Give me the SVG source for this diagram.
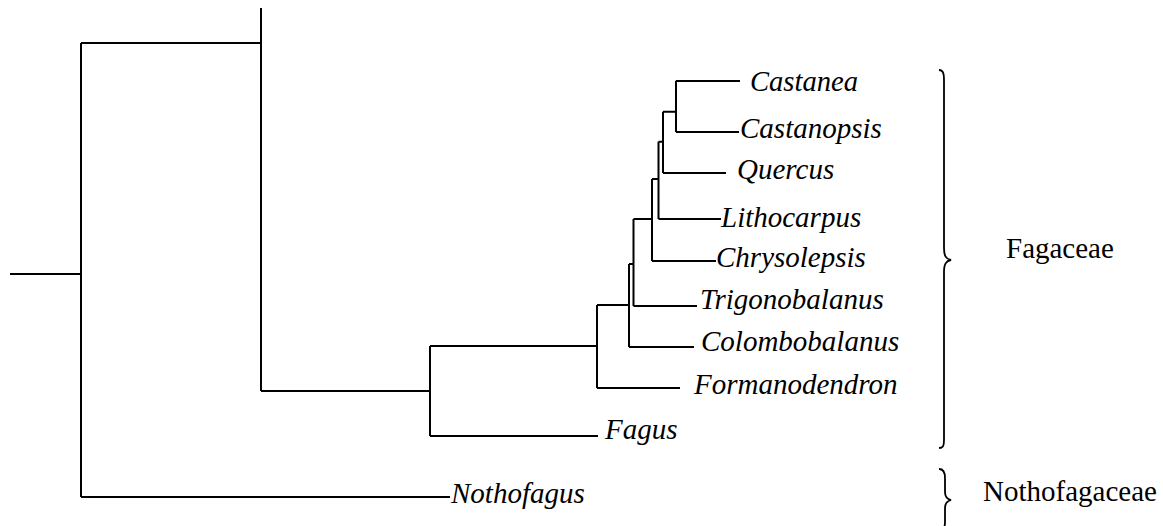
<svg xmlns="http://www.w3.org/2000/svg" width="1163" height="526" viewBox="0 0 1163 526">
<style>
.br{fill:none;stroke:#000;stroke-width:2;stroke-linecap:butt;stroke-linejoin:miter}
.bc{fill:none;stroke:#000;stroke-width:1.8}
.tx{font-family:"Liberation Serif","Times New Roman",serif;font-size:29px;font-style:italic;fill:#000}
.fam{font-family:"Liberation Serif","Times New Roman",serif;font-size:29px;fill:#000}
</style>
<rect width="1163" height="526" fill="#fff"/>
<g id="connectors">
<path class="br" d="M10 274 H81 M81 43 V497 M81 43 H261 M261 8 V391 M261 391 H430 M430 346 V436 M430 346 H598 M430 436 H598 M81 497 H450"/>
<path class="br" d="M597 305 V388 M597 388 H680 M597 305 H629 M629 264 V347 M629 347 H694 M629 264 H634 M633.5 219 V306 M633.5 306 H697 M633.5 219 H652 M652 179 V261 M652 261 H716 M652 179 H658.5 M658.5 141.7 V219 M658.5 219 H721 M658.5 141.7 H663 M663 111.7 V173 M663 173 H726 M663 111.7 H676 M676 80.7 V132 M676 81 H740 M676 132 H739"/>
</g>
<g id="castanea"><text class="tx" x="750" y="90.5" textLength="108" lengthAdjust="spacingAndGlyphs">Castanea</text></g>
<g id="castanopsis"><text class="tx" x="740" y="137.5">Castanopsis</text></g>
<g id="quercus"><text class="tx" x="737" y="178.5">Quercus</text></g>
<g id="lithocarpus"><text class="tx" x="721" y="227">Lithocarpus</text></g>
<g id="chrysolepsis"><text class="tx" x="716" y="266.5">Chrysolepsis</text></g>
<g id="trigonobalanus"><text class="tx" x="700" y="309">Trigonobalanus</text></g>
<g id="colombobalanus"><text class="tx" x="701" y="351">Colombobalanus</text></g>
<g id="formanodendron"><text class="tx" x="694" y="394">Formanodendron</text></g>
<g id="fagus"><text class="tx" x="605" y="439">Fagus</text></g>
<g id="nothofagus"><text class="tx" x="451" y="503">Nothofagus</text></g>
<g id="fagaceae">
<path class="bc" d="M939 70 C943 70 944 73 944 80 V248 C944 256 946 259 951 260 C946 261 944 264 944 272 V440 C944 446 943 448 939 448"/>
<text class="fam" x="1006" y="258">Fagaceae</text>
</g>
<g id="nothofagaceae">
<path class="bc" d="M939 469 C943 469 945 472 945 478 V492 C945 497 947 499 951 500 C947 501 945 503 945 508 V522 C945 528 943 531 939 531"/>
<text class="fam" x="983" y="500.5">Nothofagaceae</text>
</g>
</svg>
